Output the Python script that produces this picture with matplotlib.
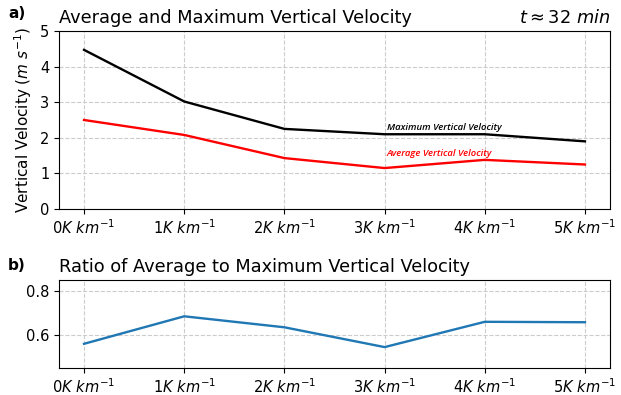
import matplotlib
matplotlib.use("Agg")
import matplotlib.pyplot as plt
import numpy as np

categories = ["0$K\\ km^{-1}$", "1$K\\ km^{-1}$", "2$K\\ km^{-1}$",
              "3$K\\ km^{-1}$", "4$K\\ km^{-1}$", "5$K\\ km^{-1}$"]
max_w = [4.47, 3.02, 2.25, 2.10, 2.10, 1.90]
avg_w = [2.50, 2.08, 1.43, 1.15, 1.38, 1.25]
ratio = [0.56, 0.685, 0.635, 0.545, 0.66, 0.658]

x = np.arange(len(categories))

fig = plt.figure(figsize=(6.21, 3.95), dpi=100)
ax1 = fig.add_axes([59/621, 1-209/395, (610-59)/621, (209-31)/395])
ax2 = fig.add_axes([59/621, 1-368/395, (610-59)/621, (368-280)/395])

for ax in (ax1, ax2):
    ax.grid(True, linestyle="--", color="#cccccc", linewidth=0.8)
    ax.set_axisbelow(True)
    ax.set_xticks(x)
    ax.set_xticklabels(categories, fontsize=10.5)
    ax.set_xlim(-0.25, 5.25)
    ax.tick_params(labelsize=10.5)

ax1.plot(x, max_w, color="black", lw=1.7)
ax1.plot(x, avg_w, color="red", lw=1.7)
ax1.set_ylim(0, 5)
ax1.set_yticks([0, 1, 2, 3, 4, 5])
ax1.set_ylabel("Vertical Velocity ($m\\ s^{-1}$)", fontsize=11)
ax1.text(3.02, 2.22, "Maximum Vertical Velocity", fontsize=6.8, style="italic",
         fontweight="semibold", family="Open Sans", color="black")
ax1.text(3.02, 1.48, "Average Vertical Velocity", fontsize=6.8, style="italic",
         fontweight="semibold", family="Open Sans", color="red")
ax1.set_title("Average and Maximum Vertical Velocity", loc="left", fontsize=12.8)
ax1.set_title("$t \\approx 32\\ min$", loc="right", fontsize=12.8)
fig.text(8/621, 1-14/395, "a)", fontsize=11, fontweight="bold", va="center")

ax2.plot(x, ratio, color="#1f77b4", lw=1.7)
ax2.set_ylim(0.45, 0.85)
ax2.set_yticks([0.6, 0.8])
ax2.set_title("Ratio of Average to Maximum Vertical Velocity", loc="left", fontsize=12.8)
fig.text(8/621, 1-265/395, "b)", fontsize=11, fontweight="bold", va="center")

fig.savefig("out.png", dpi=100)
